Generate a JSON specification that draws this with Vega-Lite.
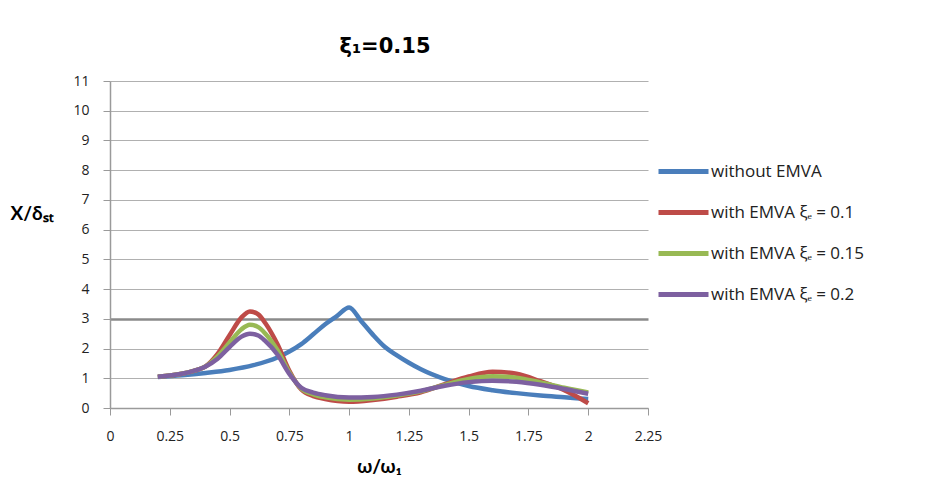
{
  "$schema": "https://vega.github.io/schema/vega-lite/v6.json",
  "width": 538,
  "height": 327,
  "autosize": {"type": "none"},
  "padding": {"left": 110, "top": 81, "right": 287, "bottom": 87},
  "background": "white",
  "title": {"text": "ξ₁=0.15", "fontSize": 21, "font": "DejaVu Sans", "fontWeight": "bold", "color": "#000", "anchor": "middle", "offset": 17, "dx": 6},
  "data": {"values": [
    {"s": "without EMVA", "x": 0.2, "y": 1.04}, {"s": "without EMVA", "x": 0.3, "y": 1.1}, {"s": "without EMVA", "x": 0.4, "y": 1.18},
    {"s": "without EMVA", "x": 0.5, "y": 1.28}, {"s": "without EMVA", "x": 0.6, "y": 1.44}, {"s": "without EMVA", "x": 0.7, "y": 1.7},
    {"s": "without EMVA", "x": 0.75, "y": 1.9}, {"s": "without EMVA", "x": 0.8, "y": 2.15}, {"s": "without EMVA", "x": 0.85, "y": 2.48},
    {"s": "without EMVA", "x": 0.9, "y": 2.82}, {"s": "without EMVA", "x": 0.95, "y": 3.1}, {"s": "without EMVA", "x": 1.0, "y": 3.38},
    {"s": "without EMVA", "x": 1.05, "y": 2.93}, {"s": "without EMVA", "x": 1.1, "y": 2.46}, {"s": "without EMVA", "x": 1.15, "y": 2.05},
    {"s": "without EMVA", "x": 1.2, "y": 1.77}, {"s": "without EMVA", "x": 1.25, "y": 1.52}, {"s": "without EMVA", "x": 1.3, "y": 1.3},
    {"s": "without EMVA", "x": 1.4, "y": 0.97}, {"s": "without EMVA", "x": 1.5, "y": 0.74}, {"s": "without EMVA", "x": 1.6, "y": 0.6},
    {"s": "without EMVA", "x": 1.7, "y": 0.5}, {"s": "without EMVA", "x": 1.8, "y": 0.42}, {"s": "without EMVA", "x": 1.9, "y": 0.36},
    {"s": "without EMVA", "x": 2.0, "y": 0.3},

    {"s": "with EMVA ξₑ = 0.1", "x": 0.2, "y": 1.05}, {"s": "with EMVA ξₑ = 0.1", "x": 0.3, "y": 1.15}, {"s": "with EMVA ξₑ = 0.1", "x": 0.35, "y": 1.25},
    {"s": "with EMVA ξₑ = 0.1", "x": 0.4, "y": 1.4}, {"s": "with EMVA ξₑ = 0.1", "x": 0.45, "y": 1.82}, {"s": "with EMVA ξₑ = 0.1", "x": 0.5, "y": 2.45},
    {"s": "with EMVA ξₑ = 0.1", "x": 0.55, "y": 3.05}, {"s": "with EMVA ξₑ = 0.1", "x": 0.585, "y": 3.25}, {"s": "with EMVA ξₑ = 0.1", "x": 0.62, "y": 3.15},
    {"s": "with EMVA ξₑ = 0.1", "x": 0.65, "y": 2.85}, {"s": "with EMVA ξₑ = 0.1", "x": 0.7, "y": 2.15}, {"s": "with EMVA ξₑ = 0.1", "x": 0.75, "y": 1.25},
    {"s": "with EMVA ξₑ = 0.1", "x": 0.8, "y": 0.62}, {"s": "with EMVA ξₑ = 0.1", "x": 0.85, "y": 0.4}, {"s": "with EMVA ξₑ = 0.1", "x": 0.9, "y": 0.3},
    {"s": "with EMVA ξₑ = 0.1", "x": 1.0, "y": 0.21}, {"s": "with EMVA ξₑ = 0.1", "x": 1.1, "y": 0.27}, {"s": "with EMVA ξₑ = 0.1", "x": 1.2, "y": 0.38},
    {"s": "with EMVA ξₑ = 0.1", "x": 1.3, "y": 0.53}, {"s": "with EMVA ξₑ = 0.1", "x": 1.4, "y": 0.8}, {"s": "with EMVA ξₑ = 0.1", "x": 1.5, "y": 1.06},
    {"s": "with EMVA ξₑ = 0.1", "x": 1.6, "y": 1.22}, {"s": "with EMVA ξₑ = 0.1", "x": 1.7, "y": 1.15}, {"s": "with EMVA ξₑ = 0.1", "x": 1.8, "y": 0.9},
    {"s": "with EMVA ξₑ = 0.1", "x": 1.9, "y": 0.6}, {"s": "with EMVA ξₑ = 0.1", "x": 2.0, "y": 0.16},

    {"s": "with EMVA ξₑ = 0.15", "x": 0.2, "y": 1.05}, {"s": "with EMVA ξₑ = 0.15", "x": 0.3, "y": 1.15}, {"s": "with EMVA ξₑ = 0.15", "x": 0.35, "y": 1.25},
    {"s": "with EMVA ξₑ = 0.15", "x": 0.4, "y": 1.4}, {"s": "with EMVA ξₑ = 0.15", "x": 0.45, "y": 1.74}, {"s": "with EMVA ξₑ = 0.15", "x": 0.5, "y": 2.2},
    {"s": "with EMVA ξₑ = 0.15", "x": 0.55, "y": 2.65}, {"s": "with EMVA ξₑ = 0.15", "x": 0.585, "y": 2.8}, {"s": "with EMVA ξₑ = 0.15", "x": 0.62, "y": 2.72},
    {"s": "with EMVA ξₑ = 0.15", "x": 0.65, "y": 2.5}, {"s": "with EMVA ξₑ = 0.15", "x": 0.7, "y": 1.95}, {"s": "with EMVA ξₑ = 0.15", "x": 0.75, "y": 1.2},
    {"s": "with EMVA ξₑ = 0.15", "x": 0.8, "y": 0.65}, {"s": "with EMVA ξₑ = 0.15", "x": 0.85, "y": 0.46}, {"s": "with EMVA ξₑ = 0.15", "x": 0.9, "y": 0.36},
    {"s": "with EMVA ξₑ = 0.15", "x": 1.0, "y": 0.28}, {"s": "with EMVA ξₑ = 0.15", "x": 1.1, "y": 0.32}, {"s": "with EMVA ξₑ = 0.15", "x": 1.2, "y": 0.42},
    {"s": "with EMVA ξₑ = 0.15", "x": 1.3, "y": 0.56}, {"s": "with EMVA ξₑ = 0.15", "x": 1.4, "y": 0.78}, {"s": "with EMVA ξₑ = 0.15", "x": 1.5, "y": 0.98},
    {"s": "with EMVA ξₑ = 0.15", "x": 1.6, "y": 1.07}, {"s": "with EMVA ξₑ = 0.15", "x": 1.7, "y": 1.02}, {"s": "with EMVA ξₑ = 0.15", "x": 1.8, "y": 0.86},
    {"s": "with EMVA ξₑ = 0.15", "x": 1.9, "y": 0.68}, {"s": "with EMVA ξₑ = 0.15", "x": 2.0, "y": 0.52},

    {"s": "with EMVA ξₑ = 0.2", "x": 0.2, "y": 1.05}, {"s": "with EMVA ξₑ = 0.2", "x": 0.3, "y": 1.15}, {"s": "with EMVA ξₑ = 0.2", "x": 0.35, "y": 1.25},
    {"s": "with EMVA ξₑ = 0.2", "x": 0.4, "y": 1.4}, {"s": "with EMVA ξₑ = 0.2", "x": 0.45, "y": 1.66}, {"s": "with EMVA ξₑ = 0.2", "x": 0.5, "y": 2.05},
    {"s": "with EMVA ξₑ = 0.2", "x": 0.55, "y": 2.4}, {"s": "with EMVA ξₑ = 0.2", "x": 0.585, "y": 2.5}, {"s": "with EMVA ξₑ = 0.2", "x": 0.62, "y": 2.44},
    {"s": "with EMVA ξₑ = 0.2", "x": 0.65, "y": 2.25}, {"s": "with EMVA ξₑ = 0.2", "x": 0.7, "y": 1.8}, {"s": "with EMVA ξₑ = 0.2", "x": 0.75, "y": 1.15},
    {"s": "with EMVA ξₑ = 0.2", "x": 0.8, "y": 0.68}, {"s": "with EMVA ξₑ = 0.2", "x": 0.85, "y": 0.52}, {"s": "with EMVA ξₑ = 0.2", "x": 0.9, "y": 0.43},
    {"s": "with EMVA ξₑ = 0.2", "x": 1.0, "y": 0.35}, {"s": "with EMVA ξₑ = 0.2", "x": 1.1, "y": 0.37}, {"s": "with EMVA ξₑ = 0.2", "x": 1.2, "y": 0.45},
    {"s": "with EMVA ξₑ = 0.2", "x": 1.3, "y": 0.58}, {"s": "with EMVA ξₑ = 0.2", "x": 1.4, "y": 0.75}, {"s": "with EMVA ξₑ = 0.2", "x": 1.5, "y": 0.87},
    {"s": "with EMVA ξₑ = 0.2", "x": 1.6, "y": 0.92}, {"s": "with EMVA ξₑ = 0.2", "x": 1.7, "y": 0.88}, {"s": "with EMVA ξₑ = 0.2", "x": 1.8, "y": 0.78},
    {"s": "with EMVA ξₑ = 0.2", "x": 1.9, "y": 0.64}, {"s": "with EMVA ξₑ = 0.2", "x": 2.0, "y": 0.48}
  ]},
  "mark": {"type": "line", "strokeWidth": 4.5, "interpolate": "monotone"},
  "encoding": {
    "x": {
      "field": "x", "type": "quantitative",
      "scale": {"domain": [0, 2.25], "nice": false, "zero": false},
      "axis": {
        "values": [0, 0.25, 0.5, 0.75, 1, 1.25, 1.5, 1.75, 2, 2.25],
        "labelExpr": "format(datum.value, '.2~f')", "grid": false,
        "title": "ω/ω₁", "titleFont": "Lato", "titleFontSize": 19, "titleFontWeight": "bold", "titleColor": "#000", "titlePadding": 14,
        "labelFont": "Open Sans", "labelFontSize": 14, "labelColor": "#222", "labelPadding": 14,
        "tickSize": 7, "tickColor": "#9a9a9a", "domainColor": "#9a9a9a", "domainWidth": 1.5, "labelFlush": false
      }
    },
    "y": {
      "field": "y", "type": "quantitative",
      "scale": {"domain": [0, 11], "nice": false},
      "axis": {
        "values": [0, 1, 2, 3, 4, 5, 6, 7, 8, 9, 10, 11],
        "grid": true,
        "gridColor": {"condition": {"test": "datum.value === 3", "value": "#8a8a8a"}, "value": "#b0b0b0"},
        "gridWidth": {"condition": {"test": "datum.value === 3", "value": 2.5}, "value": 1.2},
        "title": "X/δₛₜ", "titleFont": "Lato", "titleFontSize": 19, "titleFontWeight": "bold", "titleColor": "#000",
        "titleAngle": 0, "titleAlign": "left", "titleBaseline": "middle", "titleX": -100, "titleY": 132,
        "labelFont": "Open Sans", "labelFontSize": 14, "labelColor": "#222", "labelPadding": 14,
        "tickSize": 7, "tickColor": "#9a9a9a", "domainColor": "#9a9a9a", "domainWidth": 1.5
      }
    },
    "color": {
      "field": "s", "type": "nominal",
      "scale": {
        "domain": ["without EMVA", "with EMVA ξₑ = 0.1", "with EMVA ξₑ = 0.15", "with EMVA ξₑ = 0.2"],
        "range": ["#4A7EBB", "#BE4B48", "#98B954", "#7D60A0"]
      },
      "legend": {
        "title": null, "orient": "none", "legendX": 546, "legendY": 63,
        "symbolType": "stroke", "symbolSize": 2500, "symbolStrokeWidth": 5,
        "labelFont": "Open Sans", "labelFontSize": 17, "labelColor": "#222", "labelOffset": 0, "labelLimit": 400,
        "rowPadding": 3
      }
    }
  },
  "config": {"view": {"stroke": null}}
}
